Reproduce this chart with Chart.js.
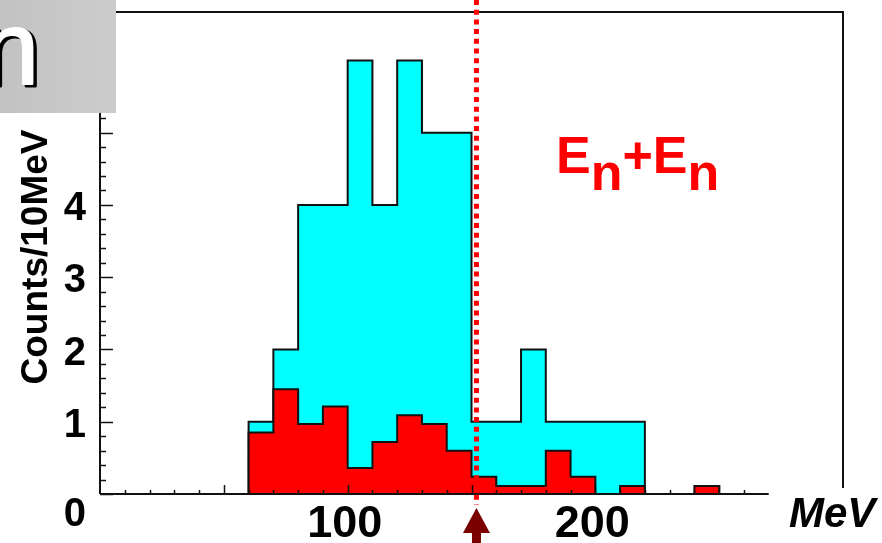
<!DOCTYPE html>
<html>
<head>
<meta charset="utf-8">
<script src="https://cdn.jsdelivr.net/npm/chart.js@4.4.1/dist/chart.umd.min.js"></script>
<style>
  html, body { margin: 0; padding: 0; background: #fff; }
  canvas { display: block; }
</style>
</head>
<body>
<canvas id="spectrum" width="882" height="543"></canvas>
<script>
// 10 MeV bins, left edges start at 60 MeV
const binStart = 60;
const binWidth = 10;
const allCounts = [1, 2, 4, 4, 6, 4, 6, 5, 5, 1, 1, 2, 1, 1, 1, 1];
const selCounts = [0.85, 1.45, 0.97, 1.21, 0.36, 0.72, 1.09, 0.97, 0.60, 0.24,
                   0.11, 0.11, 0.60, 0.24, 0, 0.11, 0, 0, 0.11];
const yLabels = [0, 1, 2, 3, 4];
const xLabels = [100, 200];
const cutValue = 152;
const xMax = 300, axisEnd = 270, yMax = 6.67;

const FONT = '"Liberation Sans", Arial, Helvetica, sans-serif';

// step outline for a histogram: start and end on the baseline
function stepPoints(counts) {
  const pts = [{ x: binStart, y: 0 }];
  counts.forEach((c, i) => pts.push({ x: binStart + i * binWidth, y: c }));
  pts.push({ x: binStart + counts.length * binWidth, y: 0 });
  return pts;
}

const decor = {
  id: 'decor',
  afterDatasetsDraw(chart) {
    const ctx = chart.ctx;
    const xs = chart.scales.x, ys = chart.scales.y;
    const x0 = xs.getPixelForValue(0), y0 = ys.getPixelForValue(0);
    const xTop = xs.getPixelForValue(xMax), yTop = ys.getPixelForValue(yMax);
    const xEnd = xs.getPixelForValue(axisEnd);

    ctx.save();
    ctx.strokeStyle = '#111';
    ctx.lineCap = 'butt';

    // frame
    ctx.lineWidth = 2;
    ctx.beginPath();
    ctx.moveTo(x0, y0); ctx.lineTo(x0, yTop); ctx.lineTo(xTop, yTop);
    ctx.lineTo(xTop, y0 - 6);
    ctx.stroke();
    ctx.beginPath();
    ctx.moveTo(x0, y0); ctx.lineTo(xEnd, y0);
    ctx.stroke();

    // y ticks, pointing inward
    ctx.lineWidth = 1.5;
    for (let k = 0; k <= 33; k++) {
      const v = k * 0.2;
      const y = Math.round(ys.getPixelForValue(v)) + 0.5;
      const len = k % 5 === 0 ? 13 : 6;
      ctx.beginPath(); ctx.moveTo(x0, y); ctx.lineTo(x0 + len, y); ctx.stroke();
    }
    // x ticks every 10 MeV
    for (let v = 10; v <= 260; v += 10) {
      const x = Math.round(xs.getPixelForValue(v)) + 0.5;
      const len = v % 50 === 0 ? 9 : 4;
      ctx.beginPath(); ctx.moveTo(x, y0); ctx.lineTo(x, y0 - len); ctx.stroke();
    }

    // cut line
    const xc = xs.getPixelForValue(cutValue);
    ctx.strokeStyle = '#ff0000';
    ctx.lineWidth = 5;
    ctx.setLineDash([5, 4.7]);
    ctx.beginPath(); ctx.moveTo(xc, 0); ctx.lineTo(xc, 505); ctx.stroke();
    ctx.setLineDash([]);

    // arrow marking the cut
    ctx.fillStyle = '#7a0000';
    ctx.beginPath();
    ctx.moveTo(xc, 508);
    ctx.lineTo(xc + 13.5, 533);
    ctx.lineTo(xc + 4.5, 533);
    ctx.lineTo(xc + 4.5, 543);
    ctx.lineTo(xc - 4.5, 543);
    ctx.lineTo(xc - 4.5, 533);
    ctx.lineTo(xc - 13.5, 533);
    ctx.closePath();
    ctx.fill();

    // tick labels
    ctx.fillStyle = '#000';
    ctx.font = 'bold 40px ' + FONT;
    ctx.textAlign = 'right';
    ctx.textBaseline = 'middle';
    yLabels.forEach(v => {
      const y = ys.getPixelForValue(v) + (v === 0 ? 21 : 4);
      ctx.fillText(String(v), 86, y);
    });
    ctx.font = 'bold 45px ' + FONT;
    ctx.textAlign = 'center';
    ctx.textBaseline = 'alphabetic';
    xLabels.forEach(v => ctx.fillText(String(v), xs.getPixelForValue(v) - 3, 537));

    // axis titles
    ctx.font = 'italic bold 42px ' + FONT;
    ctx.textAlign = 'left';
    ctx.fillText('MeV', 789, 527);
    ctx.save();
    ctx.translate(47, 257);
    ctx.rotate(-Math.PI / 2);
    ctx.font = 'bold 37px ' + FONT;
    ctx.textAlign = 'center';
    ctx.fillText('Counts/10MeV', 0, 0);
    ctx.restore();

    // E_n+E_n
    ctx.fillStyle = '#ff0000';
    ctx.font = 'bold 52px ' + FONT;
    ctx.textAlign = 'left';
    let tx = 556;
    [['E', 0], ['n', 17], ['+', 0], ['E', 0], ['n', 17]].forEach(([s, dy]) => {
      ctx.fillText(s, tx, 173 + dy);
      tx += ctx.measureText(s).width;
    });

    // grey title pad with a shadowed white letter
    const g = ctx.createLinearGradient(0, 0, 116, 0);
    g.addColorStop(0, '#c2c2c2');
    g.addColorStop(1, '#cccccc');
    ctx.fillStyle = g;
    ctx.fillRect(0, 0, 116, 113);
    ctx.font = '104px ' + FONT;
    ctx.textAlign = 'right';
    ctx.lineJoin = 'round';
    ctx.fillStyle = '#000';
    ctx.strokeStyle = '#000';
    ctx.lineWidth = 3;
    ctx.strokeText('n', 42, 86);
    ctx.fillText('n', 42, 86);
    ctx.fillStyle = '#fff';
    ctx.strokeStyle = '#fff';
    ctx.lineWidth = 2;
    ctx.strokeText('n', 39, 84);
    ctx.fillText('n', 39, 84);
    ctx.restore();
  }
};

new Chart(document.getElementById('spectrum'), {
  type: 'line',
  data: {
    datasets: [
      {
        label: 'selected',
        data: stepPoints(selCounts),
        stepped: 'before',
        fill: 'origin',
        backgroundColor: '#ff0000',
        borderColor: '#111',
        borderWidth: 2,
        pointRadius: 0,
        order: 0
      },
      {
        label: 'all',
        data: stepPoints(allCounts),
        stepped: 'before',
        fill: 'origin',
        backgroundColor: '#00ffff',
        borderColor: '#111',
        borderWidth: 2,
        pointRadius: 0,
        order: 1
      }
    ]
  },
  options: {
    responsive: false,
    animation: false,
    layout: { padding: { left: 100, right: 39, top: 12, bottom: 49 } },
    scales: {
      x: { type: 'linear', min: 0, max: xMax, display: false },
      y: { min: 0, max: yMax, display: false }
    },
    plugins: { legend: { display: false }, tooltip: { enabled: false } }
  },
  plugins: [decor]
});
</script>
</body>
</html>
